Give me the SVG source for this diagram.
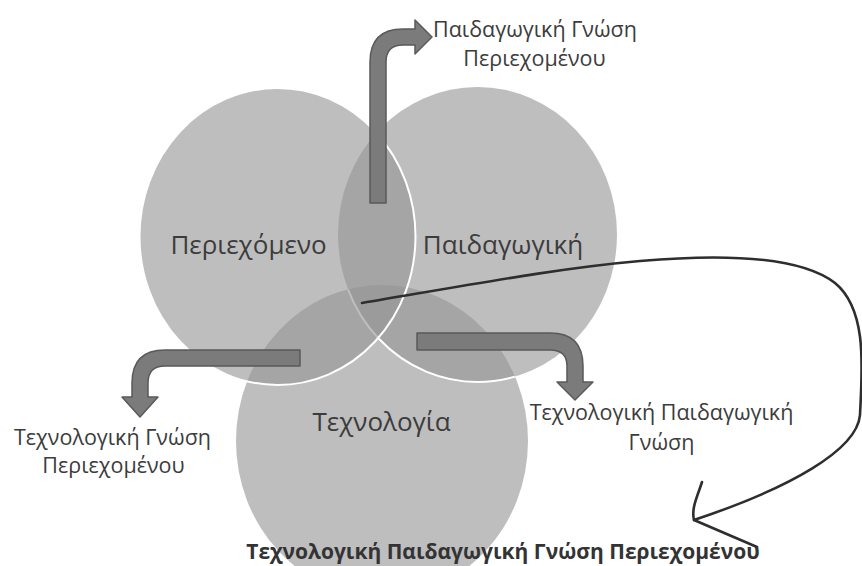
<svg xmlns="http://www.w3.org/2000/svg" width="862" height="566" viewBox="0 0 862 566">
<style>
.c{fill:#969696;fill-opacity:0.615}
.w{fill:none;stroke:#ffffff;stroke-width:2}
.t{font-family:"Open Sans","DejaVu Sans",sans-serif;fill:#3c3c3c;text-anchor:middle}
.big{font-size:26px}
.sm{font-size:21.5px}
.b{font-size:21px;font-weight:bold;fill:#333333}
.arr{fill:#7b7b7b;stroke:#5a5a5a;stroke-width:1.5;stroke-linejoin:round}
.ln{fill:none;stroke:#2e2e2e;stroke-width:2.6;stroke-linecap:round;stroke-linejoin:round}
</style>
<defs>
<clipPath id="clipBottom"><ellipse cx="382" cy="441" rx="146" ry="156"/></clipPath>
</defs>
<rect width="862" height="566" fill="#ffffff"/>
<g id="circle-technology">
<ellipse class="c" cx="382" cy="441" rx="146" ry="156"/>
</g>
<g id="circle-pedagogy">
<ellipse class="c" cx="477.5" cy="234.5" rx="139.5" ry="147.5"/>
<ellipse class="w" cx="477.5" cy="234.5" rx="139.5" ry="147.5" clip-path="url(#clipBottom)"/>
</g>
<g id="circle-content">
<ellipse class="c" cx="277.5" cy="236.5" rx="138" ry="148.5"/>
<ellipse class="w" cx="277.5" cy="236.5" rx="138" ry="148.5"/>
</g>
<g id="label-content"><text class="t big" x="248.5" y="254">Περιεχόμενο</text></g>
<g id="label-pedagogy"><text class="t big" x="503" y="254">Παιδαγωγική</text></g>
<g id="label-technology"><text class="t big" x="381.5" y="431">Τεχνολογία</text></g>
<g id="label-pck"><text class="t sm" x="535" y="37">Παιδαγωγική Γνώση</text><text class="t sm" x="534.5" y="66">Περιεχομένου</text></g>
<g id="label-tck"><text class="t sm" x="112.5" y="445">Τεχνολογική Γνώση</text><text class="t sm" x="113.5" y="473">Περιεχομένου</text></g>
<g id="label-tpk"><text class="t sm" x="661.5" y="420">Τεχνολογική Παιδαγωγική</text><text class="t sm" x="661.5" y="450">Γνώση</text></g>
<g id="label-tpck"><text class="t b" x="503" y="559">Τεχνολογική Παιδαγωγική Γνώση Περιεχομένου</text></g>
<g id="connectors">
<path class="arr" d="M370,203 L370,62 Q370,29 403,29 L415,29 L415,20 L432,37 L415,54 L415,45 L403,45 Q386,45 386,62 L386,203 Z"/>
<path class="arr" d="M300,350 L165,350 Q132,350 132,383 L132,397 L122,397 L140,417 L158,397 L148,397 L148,383 Q148,366 165,366 L300,366 Z"/>
<path class="arr" d="M417,333 L550,333 Q583,333 583,366 L583,382 L593,382 L575,400 L557,382 L567,382 L567,366 Q567,350 550,350 L417,350 Z"/>
<path class="ln" d="M362,303 C480,283 560,268 640,261 C720,254 800,256 835,283 C868,310 862,370 860,415 C857,450 790,488 694,520"/>
<path class="ln" d="M702,482 C698,495 691,508 694,520 L757,547"/>
</g>
</svg>
